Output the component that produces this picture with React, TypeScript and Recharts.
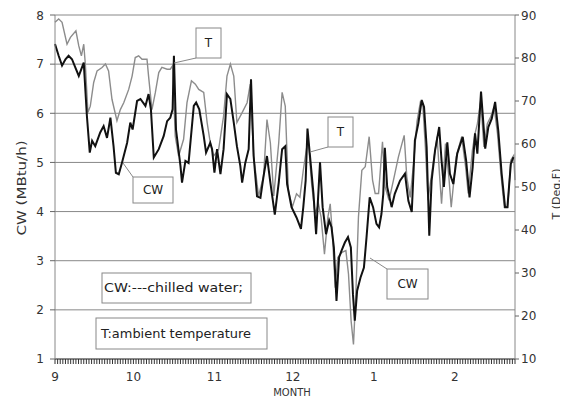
import { CartesianGrid, Line, LineChart, XAxis, YAxis } from 'recharts';

// day index from Sep 1
const cwDays = [
  0, 1.4, 2.7, 4.0, 5.2, 6.5, 7.8, 9.1, 11.0, 12.2, 13.3, 14.2, 15.4, 17.3, 18.6, 19.9, 21.2, 22.4,
  23.3, 24.4, 25.6, 27.6, 28.8, 29.7, 31.4, 32.7, 34.6, 35.8, 36.7, 37.8, 39.7, 41.6, 42.9, 44.1,
  45.0, 45.5, 46.3, 48.0, 48.6, 49.9, 51.1, 53.1, 54.0, 55.2, 56.9, 57.8, 59.4, 60.1, 61.0, 62.0,
  63.3, 64.5, 65.8, 67.1, 68.4, 69.6, 70.9, 71.6, 72.8, 74.1, 75.0, 76.0, 77.3, 78.6, 79.8, 81.1,
  82.4, 84.1, 85.6, 86.9, 88.1, 88.8, 90.5, 92.4, 94.1, 95.0, 95.9, 96.6, 98.9, 99.9, 101.4, 102.4,
  103.7, 104.9, 105.8, 106.7, 107.7, 108.7, 109.6, 110.9, 112.1, 113.2, 114.0, 114.7, 115.6, 116.9,
  118.2, 119.2, 120.4, 121.7, 123.0, 124.0, 124.9, 125.6, 126.2, 127.1, 128.8, 130.0, 132.0, 133.9,
  135.2, 136.5, 137.7, 139.0, 140.3, 141.2, 142.2, 143.2, 144.1, 145.4, 147.0, 147.9, 148.8, 150.1,
  151.1, 152.4, 153.9, 156.0, 157.3, 158.6, 159.8, 160.7, 161.6, 163.0, 164.6, 165.8, 167.1, 168.4,
  169.6, 170.9, 172.2, 173.1, 174.4, 175.4,
];
const cwValues = [
  7.41, 7.17, 6.97, 7.1, 7.17, 7.1, 6.93, 6.76, 7.03, 5.95, 5.2, 5.44, 5.33, 5.61, 5.74, 5.5, 5.91, 5.33,
  4.79, 4.76, 4.99, 5.4, 5.81, 5.67, 6.25, 6.29, 6.15, 6.39, 6.08, 5.1, 5.27, 5.54, 5.84, 5.91,
  6.08, 7.17, 5.67, 4.93, 4.59, 5.03, 4.99, 6.15, 6.22, 6.08, 5.54, 5.2, 5.4, 5.27, 4.79, 5.27,
  4.76, 5.27, 6.39, 6.29, 5.81, 5.33, 4.93, 4.59, 4.99, 5.27, 6.69, 5.13, 4.31, 4.28, 4.72, 5.13,
  4.59, 3.94, 4.59, 5.27, 5.33, 4.56, 4.09, 3.88, 3.65, 4.09, 4.63, 5.69, 4.36, 3.54, 5.0, 4.09,
  3.54, 3.82, 3.68, 3.27, 2.18, 3.07, 3.2, 3.37, 3.48, 3.27, 2.32, 1.78, 2.39, 2.66,
  2.86, 3.48, 4.29, 4.09, 3.75, 3.68, 3.95, 4.36, 5.3, 4.5, 4.09, 4.36, 4.63, 4.77,
  4.22, 3.99, 5.45, 5.79, 6.27, 6.13, 5.31, 3.51, 4.63, 5.24, 5.72, 5.04, 4.5, 5.41,
  4.77, 4.56, 5.18, 5.52, 5.04, 4.29, 4.9, 5.59, 5.18, 6.44, 5.28, 5.72, 5.89, 6.23,
  5.65, 4.77, 4.09, 4.09, 4.97, 5.11,
];

const tDays = [
  0, 1.4, 2.7, 4.6, 5.9, 8.0, 9.1, 10.1, 11.0, 11.6, 12.6, 13.5, 14.8, 16.1, 18.0, 19.3, 20.5, 21.8,
  23.7, 25.0, 26.3, 28.2, 29.5, 30.7, 32.0, 33.3, 35.2, 35.8, 37.1, 38.4, 39.7, 40.9, 42.9, 44.1,
  45.0, 46.0, 47.3, 49.2, 50.5, 52.2, 53.7, 55.0, 56.9, 58.2, 59.4, 60.7, 62.6, 64.5, 65.8, 67.1,
  68.4, 69.6, 71.6, 73.5, 74.7, 76.0, 77.9, 79.8, 81.1, 82.4, 83.7, 85.6, 86.9, 88.1, 89.3, 90.8,
  92.4, 93.7, 95.0, 96.7, 97.2, 98.2, 99.5, 100.8, 101.8, 103.1, 104.4, 105.3, 106.2, 107.2, 108.2,
  109.8, 111.3, 112.3, 113.3, 114.2, 115.1, 116.1, 117.4, 118.7, 120.2, 121.5, 122.5, 123.8, 125.3,
  126.3, 127.8, 129.5, 131.4, 133.6, 134.6, 135.9, 137.2, 138.5, 139.8, 140.7, 141.7, 142.7, 144.3,
  146.2, 147.1, 147.9, 149.4, 150.7, 151.6, 153.5, 155.6, 157.1, 158.1, 159.7, 160.7, 161.6, 162.9,
  164.1, 165.4, 166.7, 168.0, 169.3, 170.6, 171.9, 173.2, 174.4, 175.5, 176,
];
const tValues = [
  88.3, 89.1, 88.3, 83.2, 84.8, 86.3, 82.8, 80.5, 83.2, 78.6, 67.3, 68.8, 74.3, 77.0, 77.8, 78.6, 77.0, 70.4,
  65.4, 68.0, 69.6, 72.7, 75.8, 80.1, 80.5, 79.7, 79.7, 75.8, 68.0, 72.0, 76.6, 77.8, 77.4, 77.4,
  78.2, 61.8, 57.2, 61.1, 69.6, 74.7, 73.9, 72.7, 72.0, 65.0, 60.3, 57.2, 58.7, 66.5, 75.8, 78.6,
  75.8, 65.0, 67.3, 69.6, 73.9, 57.2, 47.9, 52.5, 65.7, 60.3, 47.9, 60.3, 72.0, 68.8, 49.2, 45.3,
  48.4, 47.6, 53.9, 60.8, 58.5, 50.7, 43.7, 46.1, 43.0, 34.4, 43.0, 46.1, 38.3, 26.6, 33.6,
  34.8, 35.2, 29.7, 18.8, 13.4, 25.0, 43.0, 53.9, 54.7, 61.7, 51.6, 48.5, 48.5, 60.5,
  50.0, 46.9, 51.6, 57.0, 62.0, 52.3, 47.6, 55.5, 65.2, 69.8, 69.4, 59.3, 46.9, 53.9,
  61.7, 53.1, 46.1, 60.1, 52.3, 45.3, 57.0, 61.7, 54.7, 48.5, 58.5, 62.4, 64.7, 70.2,
  59.3, 64.7, 66.3, 68.6, 62.4, 53.1, 45.3, 45.3, 56.2, 57.3, 51.6,
];

const monthDays = [0, 30, 61, 91, 122, 153];
const monthLabels = ['9', '10', '11', '12', '1', '2'];
const cwTicks = [1, 2, 3, 4, 5, 6, 7, 8];
const tTicks = [10, 20, 30, 40, 50, 60, 70, 80, 90];
const dayTicks = Array.from({ length: 177 }, (_, i) => i);

const cwData = cwDays.map((d, i) => ({ day: d, cw: cwValues[i] }));
const tData = tDays.map((d, i) => ({ day: d, t: tValues[i] }));

const FONT = '"DejaVu Sans", sans-serif';

function MonthTick({ x, y, payload }: any) {
  const idx = monthDays.indexOf(payload.value);
  if (idx < 0) return <g />;
  return (
    <text x={x} y={y + 17} textAnchor="middle" fontSize={12} fill="#333" fontFamily={FONT}>
      {monthLabels[idx]}
    </text>
  );
}

function Note({ x, y, w, h, text, px1, py1 }: any) {
  return (
    <g>
      <line x1={px1} y1={py1} x2={x} y2={y + (py1 > y ? h : 0)} stroke="#888" />
      <rect x={x} y={y} width={w} height={h} fill="#fff" stroke="#888" />
      <text x={x + w / 2} y={y + h / 2 + 4} textAnchor="middle" fontSize={12} fill="#222">
        {text}
      </text>
    </g>
  );
}

export default function App() {
  return (
    <div style={{ position: 'relative', width: 560, height: 390, fontFamily: FONT }}>
      <LineChart width={560} height={390} margin={{ top: 7, right: 0, bottom: 0, left: 0 }}>
        <CartesianGrid vertical={false} stroke="#888" />
        <XAxis
          type="number"
          dataKey="day"
          domain={[0, 176]}
          ticks={dayTicks}
          interval={0}
          minTickGap={0}
          height={39}
          tickSize={5}
          tickMargin={0}
          tickLine={{ stroke: '#333', strokeWidth: 1 }}
          axisLine={{ stroke: '#777', strokeWidth: 1.5 }}
          tick={<MonthTick />}
        />
        <YAxis
          domain={[1, 8]}
          ticks={cwTicks}
          width={47}
          tickSize={5}
          tickMargin={6}
          axisLine={{ stroke: '#888' }}
          tickLine={{ stroke: '#666' }}
          tick={{ fontSize: 12, fill: '#333' }}
        />
        <YAxis
          yAxisId="t"
          orientation="right"
          domain={[10, 90]}
          ticks={tTicks}
          width={53}
          tickSize={4}
          tickMargin={2}
          axisLine={{ stroke: '#888' }}
          tickLine={{ stroke: '#666' }}
          tick={{ fontSize: 12, fill: '#333' }}
        />
        <Line
          data={tData}
          yAxisId="t"
          dataKey="t"
          type="linear"
          stroke="#8c8c8c"
          strokeWidth={1.4}
          dot={false}
          isAnimationActive={false}
        />
        <Line
          data={cwData}
          dataKey="cw"
          type="linear"
          stroke="#111"
          strokeWidth={2}
          dot={false}
          isAnimationActive={false}
        />
      </LineChart>
      <svg
        width={560}
        height={390}
        style={{ position: 'absolute', left: 0, top: 0, pointerEvents: 'none' }}
        fontFamily={FONT}
      >
        <Note x={188} y={20} w={25} h={30} text="T" px1={166} py1={55} />
        <Note x={125} y={169} w={40} h={26} text="CW" px1={115} py1={155} />
        <Note x={320} y={109} w={25} h={30} text="T" px1={302} py1={144} />
        <Note x={379} y={261} w={41} h={30} text="CW" px1={362} py1={250} />
        <rect x={94} y={265} width={149} height={30} fill="#fff" stroke="#888" />
        <text x={96} y={284} fontSize={12} fill="#222" textLength={139} lengthAdjust="spacingAndGlyphs">
          CW:---chilled water;
        </text>
        <rect x={88} y={310} width={171} height={31} fill="#fff" stroke="#888" />
        <text x={93} y={330} fontSize={12} fill="#222" textLength={150} lengthAdjust="spacingAndGlyphs">
          T:ambient temperature
        </text>
        <text
          transform="translate(18,180) rotate(-90)"
          textAnchor="middle"
          fontSize={12}
          fill="#333"
          textLength={95}
          lengthAdjust="spacingAndGlyphs"
        >
          CW (MBtu/h)
        </text>
        <text transform="translate(552,186) rotate(-90)" textAnchor="middle" fontSize={11} fill="#333">
          T (Deg.F)
        </text>
        <text x={284} y={388} textAnchor="middle" fontSize={10} fill="#333">
          MONTH
        </text>
      </svg>
    </div>
  );
}
